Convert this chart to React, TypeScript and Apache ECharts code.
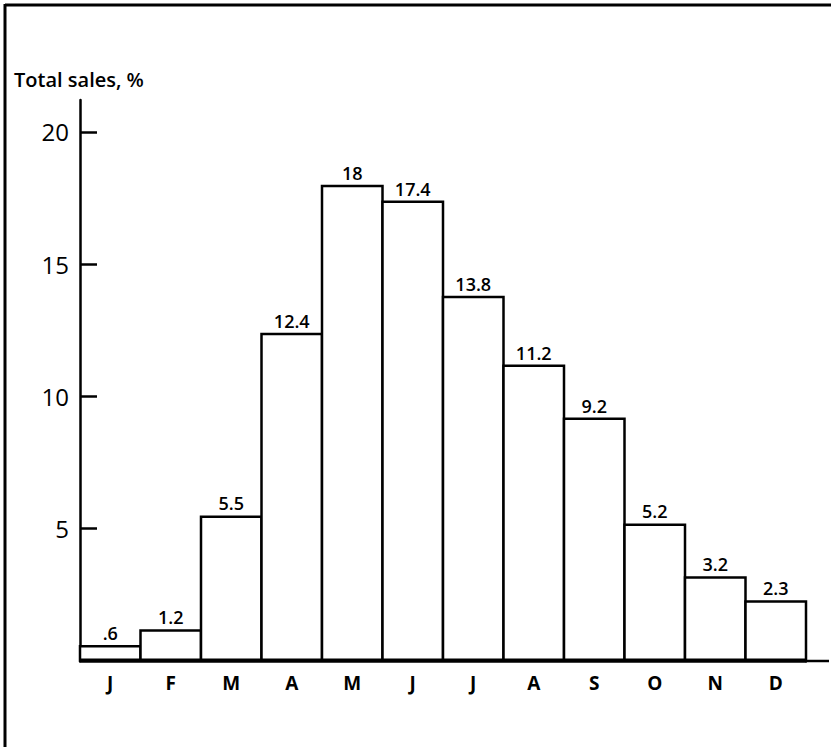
import React, { useEffect, useRef } from "react";
import * as echarts from "echarts";

const months = ["J", "F", "M", "A", "M", "J", "J", "A", "S", "O", "N", "D"];
const sales = [0.6, 1.2, 5.5, 12.4, 18, 17.4, 13.8, 11.2, 9.2, 5.2, 3.2, 2.3];
const valueLabels = [".6", "1.2", "5.5", "12.4", "18", "17.4", "13.8", "11.2", "9.2", "5.2", "3.2", "2.3"];
const yTicks = [5, 10, 15, 20];
const yTitle = "Total sales, %";

const FONT = "'Open Sans', 'DejaVu Sans', sans-serif";

export default function App() {
  const ref = useRef<HTMLDivElement>(null);
  useEffect(() => {
    document.body.style.margin = "0";
    const chart = echarts.init(ref.current!, null, { renderer: "svg" });
    chart.setOption({
      animation: false,
      backgroundColor: "#ffffff",
      grid: { left: 80, right: 25, top: 100, bottom: 86 },
      title: {
        text: yTitle,
        left: 9,
        top: 64,
        textStyle: { fontFamily: FONT, fontSize: 20, fontWeight: 600, color: "#000" },
      },
      xAxis: {
        type: "category",
        data: months,
        boundaryGap: true,
        axisLine: { lineStyle: { color: "#000", width: 2.5 } },
        axisTick: { show: false },
        axisLabel: { color: "#000", fontFamily: FONT, fontSize: 19, fontWeight: 700, margin: 12 },
      },
      yAxis: {
        type: "value",
        min: 0,
        max: 21.2,
        interval: 5,
        splitLine: { show: false },
        axisLine: { show: true, lineStyle: { color: "#000", width: 2.5 } },
        axisTick: {
          show: true,
          inside: true,
          length: 17,
          lineStyle: { color: "#000", width: 2.5 },
          customValues: yTicks,
        },
        axisLabel: {
          color: "#000",
          fontFamily: FONT,
          fontSize: 24,
          fontWeight: 500,
          margin: 11,
          customValues: yTicks,
        },
      },
      series: [
        {
          type: "bar",
          data: sales,
          barWidth: 63,
          itemStyle: { color: "#fff", borderColor: "#000", borderWidth: 2.5 },
          label: {
            show: true,
            position: "top",
            distance: 3,
            color: "#000",
            fontFamily: FONT,
            fontSize: 18,
            fontWeight: 600,
            formatter: (p: any) => valueLabels[p.dataIndex],
          },
        },
      ],
      graphic: [
        { type: "line", shape: { x1: 805, y1: 661, x2: 829, y2: 661 }, style: { stroke: "#000", lineWidth: 2.5 } },
        { type: "line", shape: { x1: 5, y1: 5, x2: 831, y2: 5 }, style: { stroke: "#000", lineWidth: 3 } },
        { type: "line", shape: { x1: 5, y1: 4, x2: 5, y2: 747 }, style: { stroke: "#000", lineWidth: 3 } },
      ],
    });
    return () => chart.dispose();
  }, []);
  return <div ref={ref} style={{ width: 831, height: 747 }} />;
}
